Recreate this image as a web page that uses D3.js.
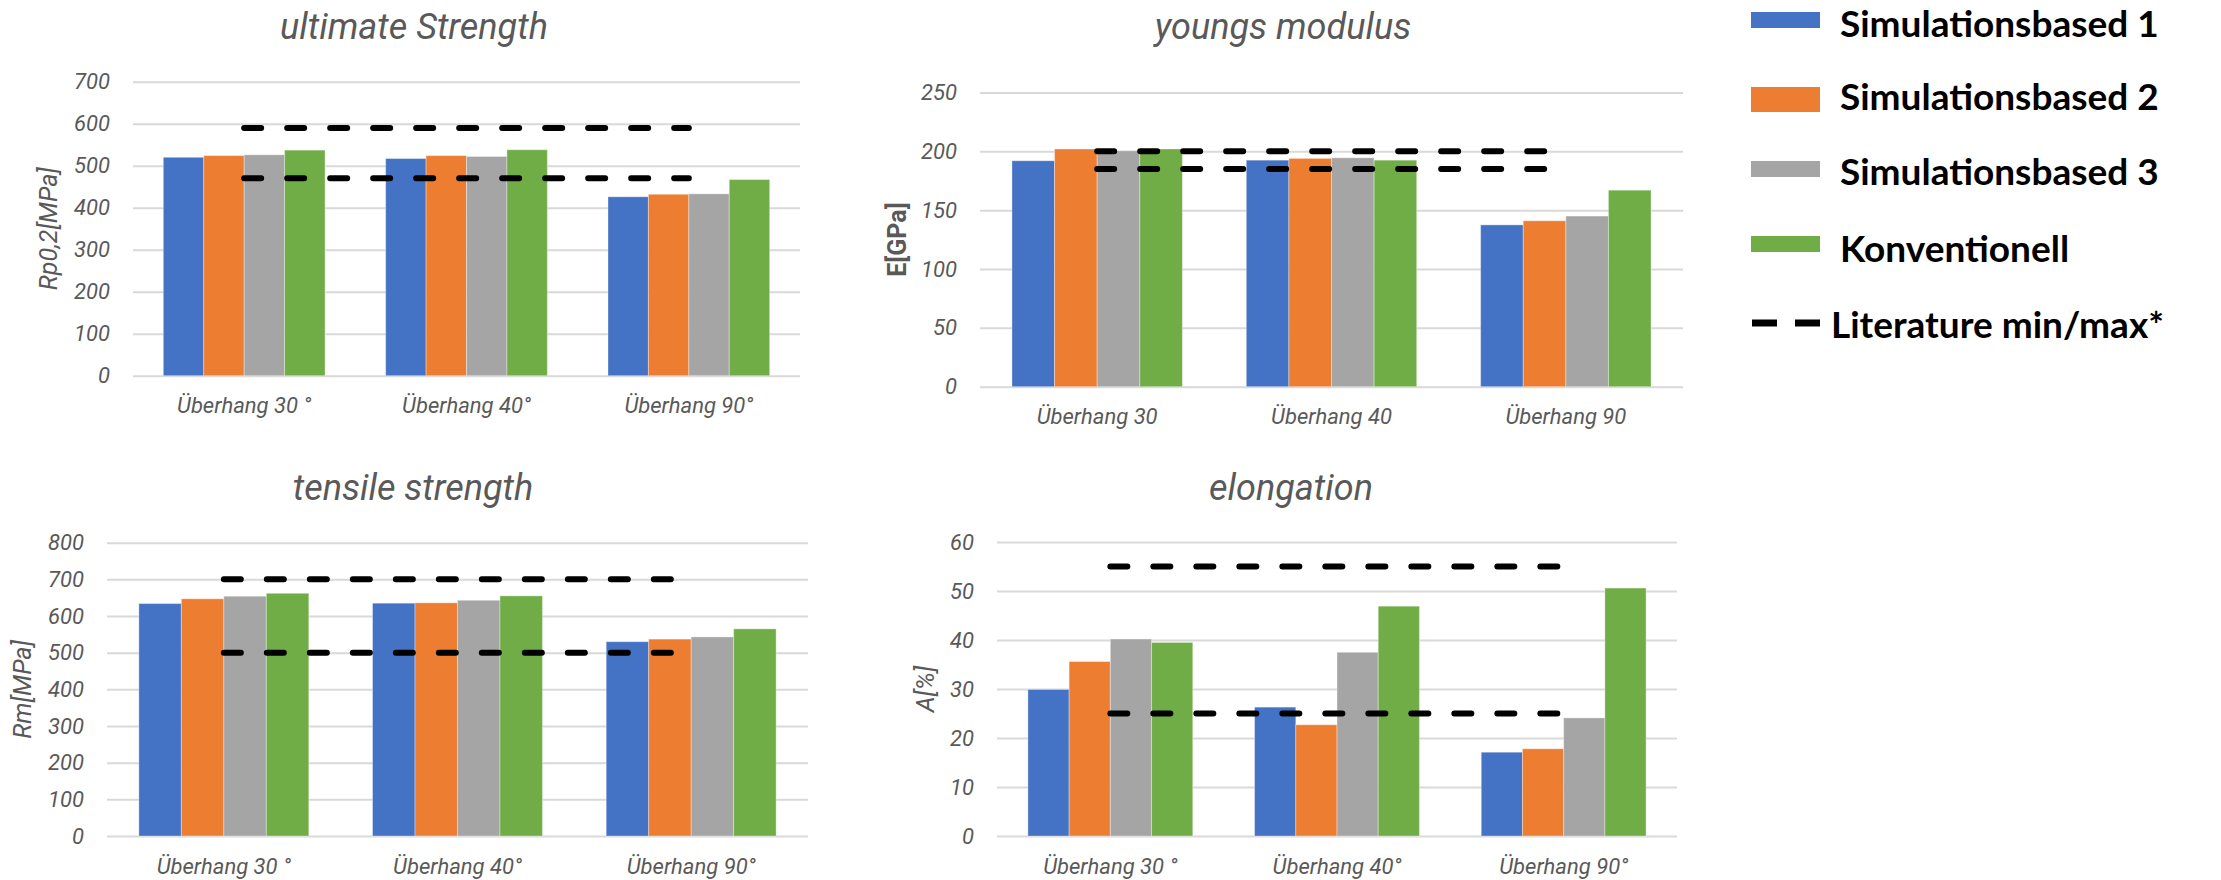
<!DOCTYPE html>
<html>
<head>
<meta charset="utf-8">
<script src="https://cdn.jsdelivr.net/npm/d3@7"></script>
<style>
  body { margin: 0; background: #ffffff; }
  svg { display: block; }
  .tick text { font-family: Roboto, sans-serif; font-style: italic; fill: #595959; }
</style>
</head>
<body>
<svg id="chart" width="2221" height="880"></svg>
<script>
// ---- data ----
const seriesNames = ["Simulationsbased 1", "Simulationsbased 2", "Simulationsbased 3", "Konventionell"];
const seriesColors = ["#4472C4", "#ED7D31", "#A5A5A5", "#70AD47"];
const literatureLabel = "Literature min/max*";

const categoriesDeg = ["Überhang 30 °", "Überhang 40°", "Überhang 90°"];
const categoriesPlain = ["Überhang 30", "Überhang 40", "Überhang 90"];

// one row per series, one value per category
const ultimateStrength = [
  [520, 517, 426],
  [524, 524, 432],
  [526, 522, 433],
  [537, 538, 467]
];
const ultimateLimits = [470, 590];
const ultimateTicks = [0, 100, 200, 300, 400, 500, 600, 700];

const youngsModulus = [
  [192, 192.5, 137.5],
  [202, 194, 141],
  [200.5, 194.5, 145],
  [202, 192.5, 167]
];
const youngsLimits = [185, 200];
const youngsTicks = [0, 50, 100, 150, 200, 250];

const tensileStrength = [
  [634, 635, 530],
  [647, 636, 537],
  [654, 643, 543],
  [662, 655, 565]
];
const tensileLimits = [500, 700];
const tensileTicks = [0, 100, 200, 300, 400, 500, 600, 700, 800];

const elongation = [
  [29.9, 26.3, 17.1],
  [35.6, 22.7, 17.8],
  [40.2, 37.5, 24.1],
  [39.5, 46.9, 50.6]
];
const elongationLimits = [25, 55];
const elongationTicks = [0, 10, 20, 30, 40, 50, 60];

// ---- layout ----
const panels = [
  { title: "ultimate Strength", yLabel: "Rp0,2[MPa]", yBold: false, cats: categoriesDeg,
    values: ultimateStrength, limits: ultimateLimits, ticks: ultimateTicks,
    left: 133, right: 800, top: 81.7, bottom: 375.7,
    titleX: 414, titleY: 39, yLabelX: 48 },
  { title: "youngs modulus", yLabel: "E[GPa]", yBold: true, cats: categoriesPlain,
    values: youngsModulus, limits: youngsLimits, ticks: youngsTicks,
    left: 980, right: 1683, top: 92.5, bottom: 386.7,
    titleX: 1283, titleY: 39, yLabelX: 897 },
  { title: "tensile strength", yLabel: "Rm[MPa]", yBold: false, cats: categoriesDeg,
    values: tensileStrength, limits: tensileLimits, ticks: tensileTicks,
    left: 107, right: 808, top: 542.7, bottom: 836,
    titleX: 413, titleY: 500, yLabelX: 22 },
  { title: "elongation", yLabel: "A[%]", yBold: false, cats: categoriesDeg,
    values: elongation, limits: elongationLimits, ticks: elongationTicks,
    left: 997, right: 1677, top: 542, bottom: 836,
    titleX: 1291, titleY: 500, yLabelX: 925 }
];

const svg = d3.select("#chart");
svg.append("rect").attr("width", 2221).attr("height", 880).attr("fill", "#ffffff");

panels.forEach(p => {
  const w = p.right - p.left;
  const h = p.bottom - p.top;
  const g = svg.append("g").attr("transform", `translate(${p.left},${p.top})`);

  const y = d3.scaleLinear()
    .domain([p.ticks[0], p.ticks[p.ticks.length - 1]])
    .range([h, 0]);

  // category bands: gap between groups is 1.5 bar widths
  const x0 = d3.scaleBand()
    .domain(p.cats)
    .range([0, w])
    .paddingInner(1.5 / 5.5)
    .paddingOuter(0.75 / 5.5);
  const x1 = d3.scaleBand()
    .domain(d3.range(seriesNames.length))
    .range([0, x0.bandwidth()]);

  // value axis with gridlines
  const yAxis = g.append("g")
    .call(d3.axisLeft(y).tickValues(p.ticks).tickSize(-w).tickPadding(23).tickFormat(d3.format("d")));
  yAxis.select(".domain").remove();
  yAxis.selectAll(".tick line").attr("stroke", "#d9d9d9").attr("stroke-width", 2);
  yAxis.selectAll(".tick text").attr("font-size", 22);

  // category axis
  const xAxis = g.append("g")
    .attr("transform", `translate(0,${h})`)
    .call(d3.axisBottom(x0).tickSize(0).tickPadding(22));
  xAxis.select(".domain").remove();
  xAxis.selectAll(".tick text").attr("font-size", 22);

  // bars
  const rows = p.cats.map((c, ci) => ({ cat: c, vals: p.values.map(s => s[ci]) }));
  g.append("g").selectAll("g")
    .data(rows)
    .join("g")
    .attr("transform", d => `translate(${x0(d.cat)},0)`)
    .selectAll("rect")
    .data(d => d.vals.map((v, si) => ({ v, si })))
    .join("rect")
    .attr("x", d => x1(d.si))
    .attr("width", x1.bandwidth())
    .attr("y", d => y(d.v))
    .attr("height", d => h - y(d.v))
    .attr("fill", d => seriesColors[d.si])
    .attr("stroke", "#ffffff")
    .attr("stroke-opacity", 0.35)
    .attr("stroke-width", 1);

  // literature min/max as dashed lines across the categories
  const line = d3.line()
    .x(c => x0(c) + x0.bandwidth() / 2)
    .y(() => 0);
  p.limits.forEach(lim => {
    g.append("path")
      .datum(p.cats)
      .attr("d", line)
      .attr("transform", `translate(0,${y(lim)})`)
      .attr("fill", "none")
      .attr("stroke", "#000000")
      .attr("stroke-width", 6)
      .attr("stroke-linecap", "round")
      .attr("stroke-dasharray", "17,26");
  });

  // title
  svg.append("text")
    .attr("x", p.titleX)
    .attr("y", p.titleY)
    .attr("text-anchor", "middle")
    .attr("font-family", "Roboto, sans-serif")
    .attr("font-style", "italic")
    .attr("font-size", 36)
    .attr("fill", "#595959")
    .text(p.title);

  // value axis title
  svg.append("text")
    .attr("transform", `translate(${p.yLabelX},${p.top + h / 2}) rotate(-90)`)
    .attr("text-anchor", "middle")
    .attr("dy", "0.35em")
    .attr("font-family", "Roboto, sans-serif")
    .attr("font-style", p.yBold ? "normal" : "italic")
    .attr("font-weight", p.yBold ? 700 : 400)
    .attr("font-size", 25)
    .attr("fill", "#595959")
    .text(p.yLabel);
});

// ---- legend ----
const legend = svg.append("g");
const legendRows = [20, 99.5, 169, 244];
const swatchHeights = [16, 25, 16, 16];
const legendBaselines = [37, 110, 185, 262];

seriesNames.forEach((name, i) => {
  legend.append("rect")
    .attr("x", 1751)
    .attr("y", legendRows[i] - swatchHeights[i] / 2)
    .attr("width", 69)
    .attr("height", swatchHeights[i])
    .attr("fill", seriesColors[i]);
  legend.append("text")
    .attr("x", 1840)
    .attr("y", legendBaselines[i])
    .attr("font-family", "Lato, sans-serif")
    .attr("font-weight", 700)
    .attr("font-size", 37)
    .attr("fill", "#000000")
    .text(name);
});

legend.append("line")
  .attr("x1", 1752).attr("x2", 1820)
  .attr("y1", 323).attr("y2", 323)
  .attr("stroke", "#000000")
  .attr("stroke-width", 7)
  .attr("stroke-dasharray", "25,18");
legend.append("text")
  .attr("x", 1831)
  .attr("y", 338)
  .attr("font-family", "Lato, sans-serif")
  .attr("font-weight", 700)
  .attr("font-size", 37)
  .attr("fill", "#000000")
  .text(literatureLabel);
</script>
</body>
</html>
